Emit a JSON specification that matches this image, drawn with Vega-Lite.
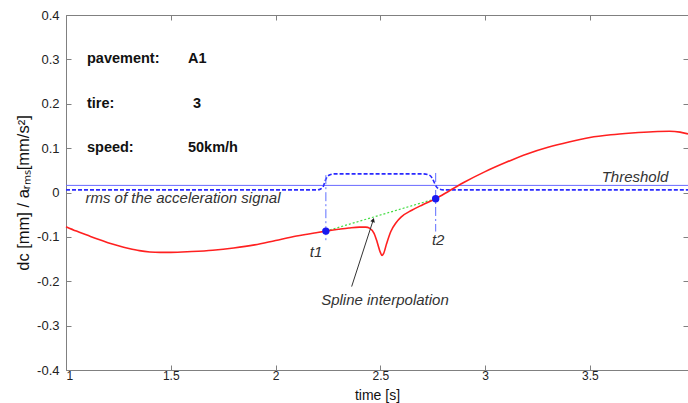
{
  "$schema": "https://vega.github.io/schema/vega-lite/v6.json",
  "width": 622,
  "height": 355,
  "autosize": {"type": "none"},
  "padding": {"left": 66, "top": 15, "right": 0, "bottom": 33},
  "background": "white",
  "config": {
    "view": {"stroke": null},
    "font": "Liberation Sans",
    "axis": {
      "domainColor": "#808080",
      "tickColor": "#808080",
      "labelColor": "#222222",
      "labelFont": "Liberation Sans",
      "labelFontSize": 13,
      "titleFont": "Liberation Sans",
      "titleFontSize": 15,
      "titleFontWeight": "normal",
      "titleColor": "#111111",
      "grid": false,
      "tickSize": -5
    }
  },
  "datasets": {
    "dc": [
      {"t": 1.0, "v": -0.077}, {"t": 1.05, "v": -0.087}, {"t": 1.1, "v": -0.096}, {"t": 1.15, "v": -0.105},
      {"t": 1.2, "v": -0.113}, {"t": 1.25, "v": -0.12}, {"t": 1.3, "v": -0.126}, {"t": 1.35, "v": -0.131},
      {"t": 1.4, "v": -0.134}, {"t": 1.45, "v": -0.135}, {"t": 1.5, "v": -0.135}, {"t": 1.6, "v": -0.133},
      {"t": 1.7, "v": -0.13}, {"t": 1.8, "v": -0.125}, {"t": 1.9, "v": -0.118}, {"t": 2.0, "v": -0.108},
      {"t": 2.1, "v": -0.098}, {"t": 2.2, "v": -0.09}, {"t": 2.24, "v": -0.087}, {"t": 2.3, "v": -0.083},
      {"t": 2.35, "v": -0.08}, {"t": 2.4, "v": -0.078}, {"t": 2.43, "v": -0.078}, {"t": 2.45, "v": -0.081},
      {"t": 2.47, "v": -0.092}, {"t": 2.485, "v": -0.112}, {"t": 2.5, "v": -0.135}, {"t": 2.508, "v": -0.142},
      {"t": 2.515, "v": -0.138}, {"t": 2.53, "v": -0.115}, {"t": 2.55, "v": -0.088}, {"t": 2.575, "v": -0.068},
      {"t": 2.6, "v": -0.055}, {"t": 2.65, "v": -0.04}, {"t": 2.7, "v": -0.028}, {"t": 2.764, "v": -0.014},
      {"t": 2.83, "v": 0.004}, {"t": 2.9, "v": 0.023}, {"t": 3.0, "v": 0.047}, {"t": 3.1, "v": 0.068},
      {"t": 3.2, "v": 0.087}, {"t": 3.3, "v": 0.102}, {"t": 3.4, "v": 0.114}, {"t": 3.5, "v": 0.124},
      {"t": 3.6, "v": 0.13}, {"t": 3.7, "v": 0.134}, {"t": 3.8, "v": 0.137}, {"t": 3.88, "v": 0.138},
      {"t": 3.93, "v": 0.136}, {"t": 3.968, "v": 0.132}
    ],
    "rms": [
      {"t": 1.0, "v": 0.006}, {"t": 2.2, "v": 0.006}, {"t": 2.215, "v": 0.008}, {"t": 2.228, "v": 0.014},
      {"t": 2.238, "v": 0.028}, {"t": 2.248, "v": 0.036}, {"t": 2.26, "v": 0.04}, {"t": 2.28, "v": 0.042},
      {"t": 2.7, "v": 0.042}, {"t": 2.73, "v": 0.04}, {"t": 2.745, "v": 0.034}, {"t": 2.755, "v": 0.025},
      {"t": 2.765, "v": 0.015}, {"t": 2.78, "v": 0.008}, {"t": 2.8, "v": 0.006}, {"t": 3.968, "v": 0.006}
    ],
    "threshold": [{"t": 1.0, "v": 0.016}, {"t": 3.968, "v": 0.016}],
    "spline": [{"t": 2.24, "v": -0.087}, {"t": 2.764, "v": -0.014}],
    "marks": [
      {"t": 2.24, "v": 0.039, "v2": -0.111},
      {"t": 2.764, "v": 0.044, "v2": -0.088}
    ],
    "arrow": [{"t": 2.363, "v": -0.212, "t2": 2.466, "v2": -0.062}],
    "head": [{"t": 2.466, "v": -0.062}],
    "bold": [
      {"t": 1.1, "v": 0.3, "label": "pavement:"},
      {"t": 1.582, "v": 0.3, "label": "A1"},
      {"t": 1.1, "v": 0.2, "label": "tire:"},
      {"t": 1.606, "v": 0.2, "label": "3"},
      {"t": 1.1, "v": 0.1, "label": "speed:"},
      {"t": 1.582, "v": 0.1, "label": "50km/h"}
    ],
    "italic": [
      {"t": 3.715, "v": 0.034, "label": "Threshold"},
      {"t": 1.558, "v": -0.013, "label": "rms of the acceleration signal"},
      {"t": 2.522, "v": -0.242, "label": "Spline interpolation"},
      {"t": 2.193, "v": -0.133, "label": "t1"},
      {"t": 2.776, "v": -0.107, "label": "t2"}
    ]
  },
  "encoding": {
    "x": {"field": "t", "type": "quantitative", "scale": {"domain": [1, 3.968], "nice": false, "zero": false}, "axis": null},
    "y": {"field": "v", "type": "quantitative", "scale": {"domain": [-0.4, 0.4], "nice": false, "zero": false}, "axis": null}
  },
  "layer": [
    {
      "data": {"name": "threshold"},
      "mark": {"type": "line", "color": "#6a6aff", "strokeWidth": 1},
      "encoding": {
        "x": {"field": "t", "type": "quantitative", "scale": {"domain": [1, 3.968], "nice": false, "zero": false},
          "axis": {"orient": "top", "labels": false, "title": null, "values": [1, 1.5, 2, 2.5, 3, 3.5]}},
        "y": {"field": "v", "type": "quantitative", "scale": {"domain": [-0.4, 0.4], "nice": false, "zero": false},
          "axis": {"orient": "right", "labels": false, "title": null, "domain": false, "values": [-0.4, -0.3, -0.2, -0.1, 0, 0.1, 0.2, 0.3, 0.4]}}
      }
    },
    {
      "data": {"name": "rms"},
      "mark": {"type": "line", "color": "#2a2aff", "strokeWidth": 1.6, "strokeDash": [4, 2], "interpolate": "monotone"},
      "encoding": {}
    },
    {
      "data": {"name": "marks"},
      "mark": {"type": "rule", "color": "#5f6fff", "strokeWidth": 1, "strokeDash": [9, 3, 2, 3]},
      "encoding": {"y2": {"field": "v2"}}
    },
    {
      "data": {"name": "spline"},
      "mark": {"type": "line", "color": "#44dd44", "strokeWidth": 1.2, "strokeDash": [2, 2]},
      "encoding": {}
    },
    {
      "data": {"name": "dc"},
      "mark": {"type": "line", "color": "#ff2020", "strokeWidth": 1.6, "interpolate": "monotone"},
      "encoding": {
        "x": {"field": "t", "type": "quantitative", "scale": {"domain": [1, 3.968], "nice": false, "zero": false},
          "axis": {"orient": "bottom", "values": [1, 1.5, 2, 2.5, 3, 3.5], "labelExpr": "format(datum.value, '~g')", "labelFontSize": 12, "title": "time [s]", "titleFontSize": 14, "labelPadding": 5, "titleY": 32, "titleBaseline": "bottom"}},
        "y": {"field": "v", "type": "quantitative", "scale": {"domain": [-0.4, 0.4], "nice": false, "zero": false},
          "axis": {"orient": "left", "values": [-0.4, -0.3, -0.2, -0.1, 0, 0.1, 0.2, 0.3, 0.4], "labelExpr": "replace(format(datum.value, '~g'), '\u2212', '-')", "title": "dc [mm] / a\u1d63\u2098\u209b[mm/s\u00b2]", "titleFontSize": 16.5, "labelPadding": 12, "titlePadding": 5}}
      }
    },
    {
      "data": {"name": "spline"},
      "mark": {"type": "point", "filled": true, "color": "#1818f0", "size": 55, "opacity": 1},
      "encoding": {}
    },
    {
      "data": {"name": "arrow"},
      "mark": {"type": "rule", "color": "#333333", "strokeWidth": 1},
      "encoding": {"x2": {"field": "t2"}, "y2": {"field": "v2"}}
    },
    {
      "data": {"name": "head"},
      "mark": {"type": "point", "shape": "triangle-up", "filled": true, "color": "#222222", "size": 22, "angle": 18, "opacity": 1},
      "encoding": {}
    },
    {
      "data": {"name": "bold"},
      "mark": {"type": "text", "align": "left", "baseline": "middle", "fontSize": 14.5, "fontWeight": "bold", "color": "#111111", "font": "Liberation Sans"},
      "encoding": {"text": {"field": "label"}}
    },
    {
      "data": {"name": "italic"},
      "mark": {"type": "text", "align": "center", "baseline": "middle", "fontSize": 15, "fontStyle": "italic", "color": "#333333", "font": "Liberation Sans"},
      "encoding": {"text": {"field": "label"}}
    }
  ],
  "resolve": {"axis": {"x": "independent", "y": "independent"}}
}
